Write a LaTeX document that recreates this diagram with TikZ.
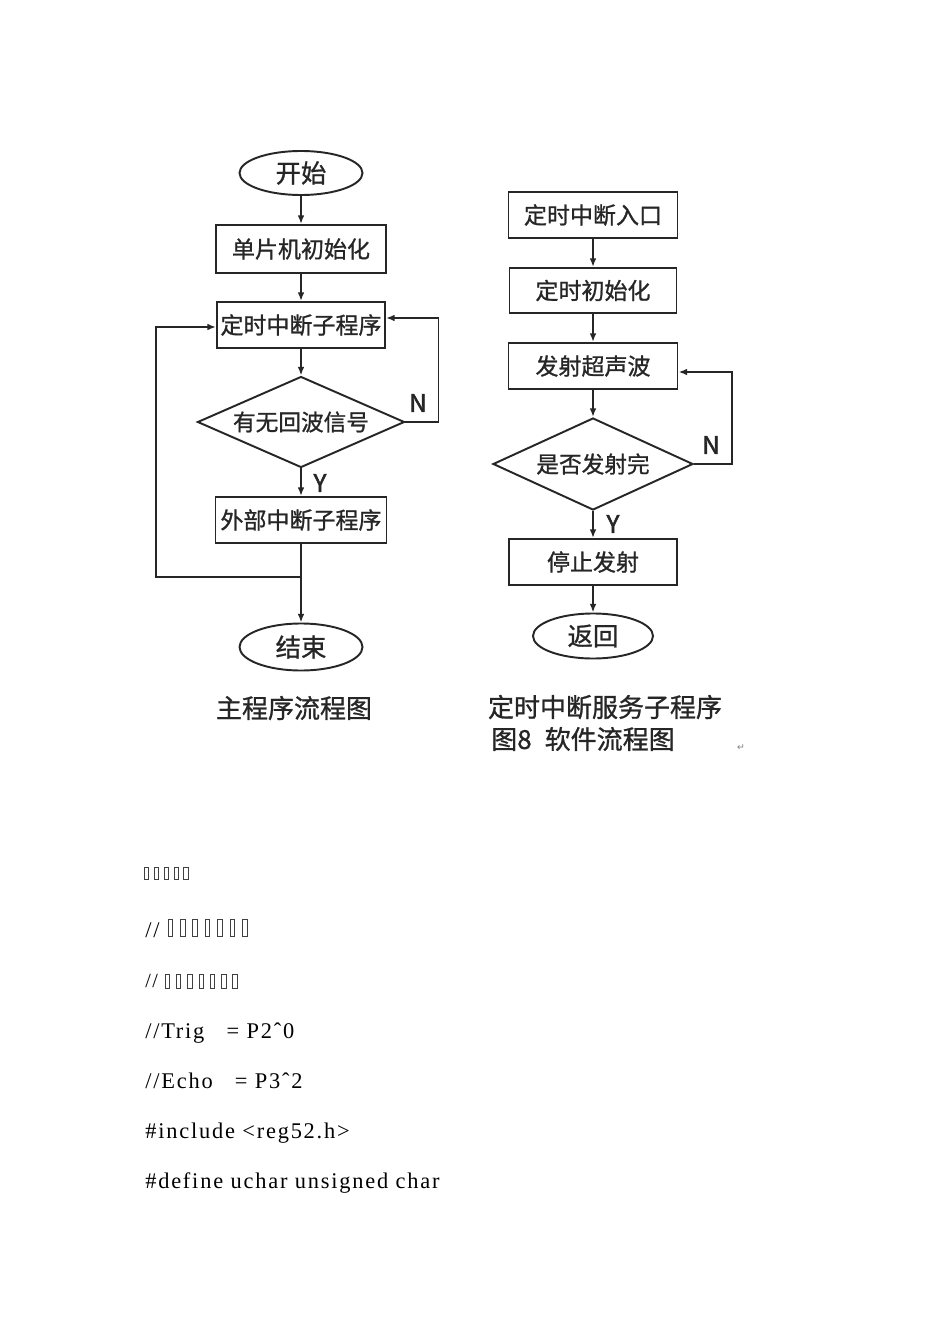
\documentclass[tikz,border=0pt]{standalone}
\usepackage{fontspec}
\newfontfamily\cjk[FakeBold=1]{Noto Sans CJK SC}
\newfontfamily\cjkb[FakeBold=2.2]{Noto Sans CJK SC}
\newfontfamily\codefont[LetterSpace=8]{Liberation Serif}
\newfontfamily\symfont{DejaVu Sans}
\usetikzlibrary{shapes.geometric,arrows.meta,calc}
\begin{document}
\begin{tikzpicture}[x=0.75pt,y=-0.75pt,
  ln/.style={line width=1.45pt, draw=black!85},
  arr/.style={ln, -{Latex[length=6.5pt,width=5pt]}},
  sz/.style 2 args={minimum width=#1*0.75pt, minimum height=#2*0.75pt},
  pbox/.style={rectangle, ln, inner sep=0pt, font=\cjk\fontsize{17.25pt}{20pt}\selectfont, text=black!85},
  term/.style={ellipse, ln, inner sep=0pt, font=\cjk\fontsize{19pt}{22pt}\selectfont, text=black!85},
  dec/.style={diamond, ln, inner sep=0pt, font=\cjk\fontsize{17pt}{20pt}\selectfont, text=black!85},
  yn/.style={font=\cjkb\fontsize{18pt}{20pt}\selectfont, text=black!85, inner sep=0pt},
  captxt/.style={font=\cjk\fontsize{19.5pt}{23pt}\selectfont, text=black!85, inner sep=0pt},
  code/.style={anchor=base west, inner sep=0pt, font=\codefont\fontsize{16.8pt}{20pt}\selectfont},
  tofu/.style={draw=black!75, line width=0.5pt}
]
\fill[white] (0,0) rectangle (950,1344);
\useasboundingbox (0,0) rectangle (950,1344);

% ---- main program flowchart
\node[term, sz={123}{44}] (start) at (301,173) {开始};
\node[pbox, sz={170}{48}] (init) at (301,249) {单片机初始化};
\node[pbox, sz={168}{46}] (timer) at (301,325) {定时中断子程序};
\node[dec, shape aspect=2.27, sz={207}{91}] (echo) at (301,422) {有无回波信号};
\node[pbox, sz={171}{46}] (ext) at (301,520) {外部中断子程序};
\node[term, sz={123}{47}] (end) at (301,647) {结束};
\coordinate (jn) at (301,577);
\coordinate (lft) at (156,577);

\draw[arr] (start.south) -- (init.north);
\draw[arr] (init.south) -- (timer.north);
\draw[arr] (timer.south) -- (echo.north);
\draw[arr] (echo.south) -- (ext.north);
\draw[ln] (ext.south) -- (jn);
\draw[arr] (jn) -- (end.north);
\draw[arr] (jn) -- (lft) |- ([yshift=-1.5pt]timer.west);
\draw[arr] (echo.east) -- ++(33,0) |- ([yshift=5.25pt]timer.east);
\node[yn] (n1) at (418,403) {N};
\node[yn] (y1) at (320,483) {Y};

% ---- timer interrupt flowchart
\node[pbox, sz={169}{46}] (rin) at (593,215) {定时中断入口};
\node[pbox, sz={167}{45}] (rinit) at (593,290.5) {定时初始化};
\node[pbox, sz={169}{46}] (emit) at (593,366) {发射超声波};
\node[dec, shape aspect=2.17, sz={200}{92}] (done) at (593,464) {是否发射完};
\node[pbox, sz={168}{46}] (stop) at (593,562) {停止发射};
\node[term, sz={120}{45}] (ret) at (593,636) {返回};

\draw[arr] (rin.south) -- (rinit.north);
\draw[arr] (rinit.south) -- (emit.north);
\draw[arr] (emit.south) -- (done.north);
\draw[arr] (done.south) -- (stop.north);
\draw[arr] (stop.south) -- (ret.north);
\draw[arr] (done.east) -- ++(38,0) |- ([yshift=-4.5pt]emit.east);
\node[yn] (n2) at (711,445) {N};
\node[yn] (y2) at (613,524) {Y};

% ---- captions
\node[captxt] (c1) at (294,708) {主程序流程图};
\node[captxt] (c2) at (605,707) {定时中断服务子程序};
\node[captxt, anchor=west] (c3) at (491,739) {图8\hspace{0.5em}软件流程图};
\node[font=\symfont\fontsize{7pt}{8pt}\selectfont, text=black!50, inner sep=0pt] (rm) at (741,748) {↵};

% ---- code text
\foreach \i in {0,...,4} \draw[tofu] (144+\i*9.95,867) rectangle ++(4.5,12);
\node[code] (l2) at (145,937) {//};
\foreach \i in {0,...,6} \draw[tofu] (168+\i*12.4,919) rectangle ++(4.5,17);
\node[code, font=\codefont\fontsize{15pt}{18pt}\selectfont] (l3) at (145,987) {//};
\foreach \i in {0,...,6} \draw[tofu] (165+\i*11.3,974) rectangle ++(4.5,14);
\node[code] (l4) at (145,1038) {//Trig\ \ \ = P2ˆ0};
\node[code] (l5) at (145,1088) {//Echo\ \ \ = P3ˆ2};
\node[code] (l6) at (145,1138) {\#include <reg52.h>};
\node[code] (l7) at (145,1188) {\#define uchar unsigned char};
\end{tikzpicture}
\end{document}
